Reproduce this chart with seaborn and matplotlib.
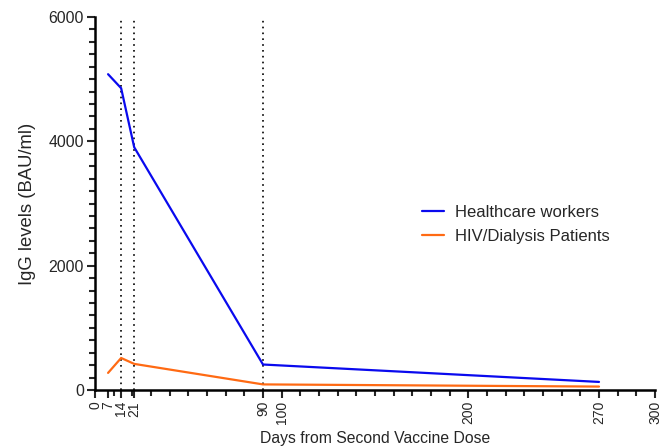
import numpy as np
import pandas as pd
import matplotlib
matplotlib.use("Agg")
import matplotlib.pyplot as plt
import seaborn as sns
from matplotlib.ticker import MultipleLocator, FixedLocator

# data
days = [7, 14, 21, 90, 270]
hcw = [5080, 4855, 3905, 410, 130]
hiv = [275, 515, 420, 90, 55]
series_names = ["Healthcare workers", "HIV/Dialysis Patients"]
vlines = [14, 21, 90]
xticks = [0, 7, 14, 21, 90, 100, 200, 270, 300]

df = pd.DataFrame({
    "day": days * 2,
    "igg": hcw + hiv,
    "group": [series_names[0]] * len(days) + [series_names[1]] * len(days),
})

sns.set_style("ticks")
plt.rcParams["font.family"] = ["Liberation Sans", "DejaVu Sans"]

fig = plt.figure(figsize=(6.59, 4.46), dpi=100)
ax = fig.add_axes([95 / 659, 56 / 446, 560 / 659, 373 / 446])

sns.lineplot(data=df, x="day", y="igg", hue="group",
             palette=["#0a0aee", "#ff6a13"], linewidth=1.6, ax=ax)

for v in vlines:
    ax.axvline(v, color="black", linestyle=(0, (1, 2.5)), linewidth=1.2, zorder=0)

ax.set_xlim(0, 300)
ax.set_ylim(0, 6000)
ax.xaxis.set_major_locator(FixedLocator(xticks))
ax.xaxis.set_minor_locator(MultipleLocator(10))
ax.yaxis.set_major_locator(MultipleLocator(2000))
ax.yaxis.set_minor_locator(MultipleLocator(200))
ax.tick_params(axis="x", which="major", labelrotation=90, length=6, width=1.5, labelsize=10, pad=2)
ax.tick_params(axis="y", which="major", length=6, width=1.5, labelsize=11.4, pad=2)
ax.tick_params(which="minor", length=4, width=1.5)

for s in ["top", "right"]:
    ax.spines[s].set_visible(False)
for s in ["left", "bottom"]:
    ax.spines[s].set_linewidth(1.8)
    ax.spines[s].set_color("black")

ax.set_xlabel("Days from Second Vaccine Dose", fontsize=11.3, labelpad=5)
ax.set_ylabel("IgG levels (BAU/ml)", fontsize=13.3, labelpad=9)

leg = ax.legend(frameon=False, fontsize=12, loc="upper left",
                bbox_to_anchor=(0.584, 0.496), borderaxespad=0, borderpad=0,
                handlelength=1.3, handletextpad=0.7, labelspacing=0.55)

fig.savefig("out.png", dpi=100)
